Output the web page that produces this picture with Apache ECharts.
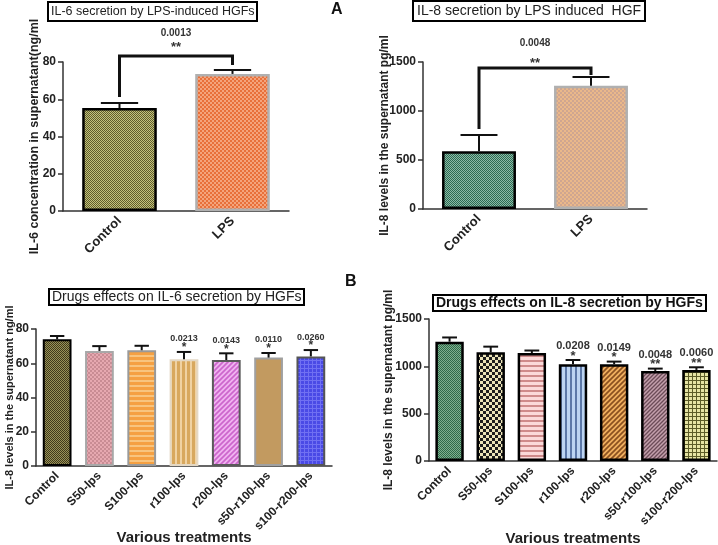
<!DOCTYPE html>
<html><head><meta charset="utf-8">
<script src="https://cdn.jsdelivr.net/npm/echarts@6/dist/echarts.min.js"></script>
<style>html,body{margin:0;padding:0;background:#fff}#c{width:718px;height:545px}</style>
</head><body><div id="c"></div>
<script>
// ---------- DATA ----------
const topCats = ['Control', 'LPS'];
const il6Mean = [55.3, 73.6];
const il6Sem = [2.7, 2.1];
const il6Bracket = [83.2, 61.2, 78.4];   // top, left leg end, right leg end
const il6P = '0.0013', il6Stars = '**';

const il8Mean = [590, 1258];
const il8Sem = [165, 90];
const il8Bracket = [1440, 816, 1367];
const il8P = '0.0048', il8Stars = '**';

const drugCats = ['Control', 'S50-lps', 'S100-lps', 'r100-lps', 'r200-lps', 's50-r100-lps', 's100-r200-lps'];
const drugIl6Mean = [74.0, 67.2, 67.6, 62.3, 61.9, 63.3, 64.0];
const drugIl6Sem = [1.9, 2.8, 2.6, 4.3, 3.9, 2.7, 3.7];
const drugIl6P = ['', '', '', '0.0213', '0.0143', '0.0110', '0.0260'];
const drugIl6Stars = ['', '', '', '*', '*', '*', '*'];

const drugIl8Mean = [1260, 1148, 1140, 1022, 1022, 950, 962];
const drugIl8Sem = [45, 60, 27, 45, 28, 26, 28];
const drugIl8P = ['', '', '', '0.0208', '0.0149', '0.0048', '0.0060'];
const drugIl8Stars = ['', '', '', '*', '*', '**', '**'];

// ---------- PATTERNS ----------
function pat(kind, a, b, s) {
  const c = document.createElement('canvas');
  c.width = s; c.height = s;
  const g = c.getContext('2d');
  g.fillStyle = a; g.fillRect(0, 0, s, s);
  g.fillStyle = b; g.strokeStyle = b;
  const h = s / 2;
  if (kind === 'checker') { g.fillRect(0, 0, h, h); g.fillRect(h, h, h, h); }
  else if (kind === 'h') { g.fillRect(0, 0, s, Math.max(1, Math.round(s / 3))); }
  else if (kind === 'v') { g.fillRect(0, 0, Math.max(1, Math.round(s / 3)), s); }
  else if (kind === 'grid') { g.fillRect(0, 0, s, 1); g.fillRect(0, 0, 1, s); }
  else if (kind === 'diag') {
    g.lineWidth = s / 3;
    g.beginPath(); g.moveTo(-1, s + 1); g.lineTo(s + 1, -1);
    g.moveTo(-1, 1); g.lineTo(1, -1);
    g.moveTo(s - 1, s + 1); g.lineTo(s + 1, s - 1); g.stroke();
  }
  return { image: c, repeat: 'repeat' };
}

const FONT = 'Liberation Sans, Arial, sans-serif';

const p1Styles = [
  { color: pat('checker', '#c4c27c', '#5f5d2c', 2), borderColor: '#000', borderWidth: 2.5 },
  { color: pat('checker', '#e8703a', '#f4a47c', 4), borderColor: '#b0b0b0', borderWidth: 2.5 }
];
const p2Styles = [
  { color: pat('checker', '#8cbaa6', '#2c6a52', 2), borderColor: '#000', borderWidth: 2.5 },
  { color: pat('checker', '#eab88a', '#cfa690', 4), borderColor: '#b0b0b0', borderWidth: 2.5 }
];
const p3Styles = [
  { color: pat('checker', '#9a9258', '#3f3a1c', 2), borderColor: '#000', borderWidth: 2 },
  { color: pat('checker', '#e6a8b0', '#c98c94', 4), borderColor: '#a8a8a8', borderWidth: 2 },
  { color: pat('h', '#f5a042', '#f8c47e', 5), borderColor: '#999', borderWidth: 2 },
  { color: pat('v', '#d8a85e', '#f0d2a2', 5), borderColor: '#e4d8c4', borderWidth: 2 },
  { color: pat('diag', '#f0b4f0', '#cc66cc', 5), borderColor: '#5a5a5a', borderWidth: 2 },
  { color: '#c29a60', borderColor: '#a0a0a0', borderWidth: 2 },
  { color: pat('grid', '#4a4ae6', '#7070f2', 4), borderColor: '#555', borderWidth: 2 }
];
const p4Styles = [
  { color: pat('checker', '#7fb08e', '#2f6a4a', 2), borderColor: '#000', borderWidth: 2.5 },
  { color: pat('checker', '#ece4b8', '#1e1e1e', 6), borderColor: '#000', borderWidth: 2.5 },
  { color: pat('h', '#fbd8d8', '#cf8a8a', 5), borderColor: '#000', borderWidth: 2.5 },
  { color: pat('v', '#bcd4f2', '#5c78a8', 5), borderColor: '#000', borderWidth: 2.5 },
  { color: pat('diag', '#f0b060', '#8a5020', 5), borderColor: '#000', borderWidth: 2.5 },
  { color: pat('diag', '#c4a0ac', '#6c4c58', 4), borderColor: '#000', borderWidth: 2.5 },
  { color: pat('grid', '#e6e4a4', '#5c5c28', 4), borderColor: '#000', borderWidth: 2.5 }
];

function barData(vals, styles) {
  return vals.map((v, i) => ({ value: v, itemStyle: styles[i] }));
}
function errData(mean, sem, p, st) {
  return mean.map((m, i) => [i, m, sem[i], p ? p[i] : '', st ? st[i] : '']);
}
function errSeries(idx, mean, sem, capFrac, p, st, pFont, starFont, pOff, sOff) {
  return {
    type: 'custom', xAxisIndex: idx, yAxisIndex: idx, z: 5, clip: false,
    data: errData(mean, sem, p, st),
    renderItem: function (params, api) {
      const x = api.value(0), m = api.value(1), s = api.value(2);
      const p0 = api.coord([x, m]), p1 = api.coord([x, m + s]);
      const w = api.size([1, 0])[0] * capFrac;
      const ch = [
        { type: 'line', shape: { x1: p0[0], y1: p0[1], x2: p1[0], y2: p1[1] }, style: { stroke: '#111', lineWidth: 2 } },
        { type: 'line', shape: { x1: p1[0] - w / 2, y1: p1[1], x2: p1[0] + w / 2, y2: p1[1] }, style: { stroke: '#111', lineWidth: 2 } }
      ];
      const pt = api.value(3), stt = api.value(4);
      if (pt) ch.push({ type: 'text', style: { text: pt, x: p1[0], y: p1[1] - pOff, align: 'center', verticalAlign: 'middle', font: 'bold ' + pFont + 'px ' + FONT, fill: '#333' } });
      if (stt) ch.push({ type: 'text', style: { text: stt, x: p1[0], y: p1[1] - sOff, align: 'center', verticalAlign: 'middle', font: 'bold ' + starFont + 'px ' + FONT, fill: '#333' } });
      return { type: 'group', children: ch };
    }
  };
}
function bracketSeries(idx, br, p, st, pOff, sOff, pFont) {
  return {
    type: 'custom', xAxisIndex: idx, yAxisIndex: idx, z: 6, clip: false,
    data: [[0, br[0], br[1], br[2], 1]],
    renderItem: function (params, api) {
      const t1 = api.coord([api.value(0), api.value(1)]);
      const t2 = api.coord([api.value(4), api.value(1)]);
      const l = api.coord([api.value(0), api.value(2)]);
      const r = api.coord([api.value(4), api.value(3)]);
      return {
        type: 'group', children: [
          { type: 'polyline', shape: { points: [[l[0], l[1]], [t1[0], t1[1]], [t2[0], t2[1]], [r[0], r[1]]] }, style: { stroke: '#111', lineWidth: 3, fill: null } },
          { type: 'text', style: { text: p, x: (t1[0] + t2[0]) / 2, y: t1[1] - pOff, align: 'center', verticalAlign: 'middle', font: 'bold ' + pFont + 'px ' + FONT, fill: '#333' } },
          { type: 'text', style: { text: st, x: (t1[0] + t2[0]) / 2, y: t1[1] - sOff, align: 'center', verticalAlign: 'middle', font: 'bold 13px ' + FONT, fill: '#333' } }
        ]
      };
    }
  };
}

const axisLine = { lineStyle: { color: '#333', width: 1.5 } };
function xAx(idx, cats, labelSize, name, nameGap) {
  return {
    type: 'category', gridIndex: idx, data: cats,
    axisLine: axisLine, axisTick: { alignWithLabel: true, length: 5, lineStyle: { color: '#333', width: 1.5 } },
    axisLabel: { rotate: 45, fontSize: labelSize, fontWeight: 'bold', color: '#222', fontFamily: FONT, margin: 8, interval: 0 },
    name: name || '', nameLocation: 'middle', nameGap: nameGap || 0, nameMoveOverlap: false,
    nameTextStyle: { fontSize: 15, fontWeight: 'bold', color: '#222', fontFamily: FONT }
  };
}
function yAx(idx, max, interval, name, gap, nameSize) {
  return {
    type: 'value', gridIndex: idx, min: 0, max: max, interval: interval,
    axisLine: { show: true, lineStyle: { color: '#333', width: 1.5 } },
    axisTick: { show: true, length: 5, lineStyle: { color: '#333', width: 1.5 } },
    splitLine: { show: false },
    axisLabel: { fontSize: 12, fontWeight: 'bold', color: '#222', fontFamily: FONT, margin: 7, formatter: v => String(v) },
    name: name, nameLocation: 'middle', nameGap: gap, nameMoveOverlap: false,
    nameTextStyle: { fontSize: nameSize, fontWeight: 'bold', color: '#222', fontFamily: FONT }
  };
}

const chart = echarts.init(document.getElementById('c'), null, { renderer: 'canvas' });
chart.setOption({
  animation: false,
  backgroundColor: '#fff',
  title: [
    { text: 'IL-6 secretion by LPS-induced HGFs', left: 48, top: 2, padding: [3, 3], borderColor: '#000', borderWidth: 2,
      textStyle: { fontSize: 12.5, fontWeight: 'normal', color: '#222', fontFamily: FONT } },
    { text: 'IL-8 secretion by LPS induced  HGF', left: 413, top: 1, padding: [3, 4], borderColor: '#000', borderWidth: 2,
      textStyle: { fontSize: 14, fontWeight: 'normal', color: '#222', fontFamily: FONT } },
    { text: 'Drugs effects on IL-6 secretion by HGFs', left: 49, top: 289, padding: [1, 3], borderColor: '#000', borderWidth: 2,
      textStyle: { fontSize: 14, fontWeight: 'normal', color: '#222', fontFamily: FONT } },
    { text: 'Drugs effects on IL-8 secretion by HGFs', left: 433, top: 295, padding: [1, 3], borderColor: '#000', borderWidth: 2,
      textStyle: { fontSize: 14, fontWeight: 'bold', color: '#111', fontFamily: FONT } }
  ],
  graphic: [
    { type: 'text', left: 331, top: 2, style: { text: 'A', font: 'bold 16px ' + FONT, fill: '#111' } },
    { type: 'text', left: 345, top: 274, style: { text: 'B', font: 'bold 16px ' + FONT, fill: '#111' } }
  ],
  grid: [
    { left: 63, top: 62, width: 226, height: 149, outerBoundsMode: 'none' },
    { left: 423, top: 62, width: 224, height: 147, outerBoundsMode: 'none' },
    { left: 36, top: 329, width: 296, height: 137, outerBoundsMode: 'none' },
    { left: 429, top: 319, width: 288, height: 142, outerBoundsMode: 'none' }
  ],
  xAxis: [
    xAx(0, topCats, 13),
    xAx(1, topCats, 13),
    xAx(2, drugCats, 12, 'Various treatments', 64),
    xAx(3, drugCats, 12, 'Various treatments', 70)
  ],
  yAxis: [
    yAx(0, 80, 20, 'IL-6 concentration in supernatant(ng/ml', 22, 12.5),
    yAx(1, 1500, 500, 'IL-8 levels in the supernatant pg/ml', 32, 12),
    yAx(2, 80, 20, 'IL-8 levels in the supernatant ng/ml', 21, 11),
    yAx(3, 1500, 500, 'IL-8 levels in the supernatant pg/ml', 34, 12)
  ],
  series: [
    { type: 'bar', xAxisIndex: 0, yAxisIndex: 0, barWidth: '66%', data: barData(il6Mean, p1Styles), z: 2 },
    { type: 'bar', xAxisIndex: 1, yAxisIndex: 1, barWidth: '66%', data: barData(il8Mean, p2Styles), z: 2 },
    { type: 'bar', xAxisIndex: 2, yAxisIndex: 2, barWidth: '68%', data: barData(drugIl6Mean, p3Styles), z: 2 },
    { type: 'bar', xAxisIndex: 3, yAxisIndex: 3, barWidth: '69%', data: barData(drugIl8Mean, p4Styles), z: 2 },
    errSeries(0, il6Mean, il6Sem, 0.33),
    errSeries(1, il8Mean, il8Sem, 0.33),
    errSeries(2, drugIl6Mean, drugIl6Sem, 0.34, drugIl6P, drugIl6Stars, 9, 12, 13, 4),
    errSeries(3, drugIl8Mean, drugIl8Sem, 0.36, drugIl8P, drugIl8Stars, 11, 13, 14, 4),
    bracketSeries(0, il6Bracket, il6P, il6Stars, 23, 9, 10),
    bracketSeries(1, il8Bracket, il8P, il8Stars, 25, 4, 10)
  ]
});
</script>
</body></html>
